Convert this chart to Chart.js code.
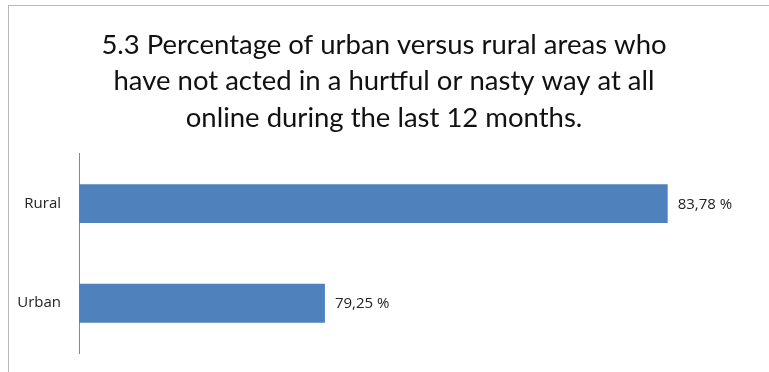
<!DOCTYPE html>
<html>
<head>
<meta charset="utf-8">
<script src="https://cdn.jsdelivr.net/npm/chart.js@4"></script>
<style>
  html, body { margin: 0; padding: 0; background: #fff; }
  #wrap { position: relative; width: 769px; height: 372px; }
  #frame { position: absolute; left: 8px; top: 5px; right: 0; bottom: 0;
           border-left: 1px solid #b8b8b8; border-top: 1px solid #b8b8b8; }
  canvas { position: absolute; left: 0; top: 0; }
</style>
</head>
<body>
<div id="wrap">
  <div id="frame"></div>
  <canvas id="chart" width="769" height="372"></canvas>
</div>
<script>
const titleLines = [
  '5.3 Percentage of urban versus rural areas who',
  'have not acted in a hurtful or nasty way at all',
  'online during the last 12 months.'
];
const areas = ['Rural', 'Urban'];
const shares = [83.78, 79.25];

const labelFont = { family: '"Open Sans", sans-serif', size: 15 };

// writes "83,78 %" to the right of each bar
const valueLabels = {
  id: 'valueLabels',
  afterDatasetsDraw(chart) {
    const ctx = chart.ctx;
    const meta = chart.getDatasetMeta(0);
    ctx.save();
    ctx.font = labelFont.size + 'px ' + labelFont.family;
    ctx.fillStyle = '#222';
    ctx.textAlign = 'left';
    ctx.textBaseline = 'middle';
    meta.data.forEach((bar, i) => {
      const txt = shares[i].toFixed(2).replace('.', ',') + ' %';
      ctx.fillText(txt, bar.x + 10, bar.y + 1);
    });
    ctx.restore();
  }
};

new Chart(document.getElementById('chart'), {
  type: 'bar',
  data: {
    labels: areas,
    datasets: [{
      data: shares,
      backgroundColor: '#4f81bd',
      barPercentage: 0.39,
      categoryPercentage: 1
    }]
  },
  options: {
    indexAxis: 'y',
    responsive: false,
    animation: false,
    layout: { padding: { left: 8, right: 9, bottom: 19, top: 12 } },
    plugins: {
      legend: { display: false },
      tooltip: { enabled: false },
      title: {
        display: true,
        text: titleLines,
        color: '#111',
        font: { family: 'Lato, sans-serif', size: 27.5, weight: 'normal', lineHeight: 1.32 },
        padding: { top: 15, bottom: 18 }
      }
    },
    scales: {
      x: { display: false, min: 76, max: 85 },
      y: {
        afterFit(scale) {
          scale.width = 71;
          // labels sit beside the bars, no extra room needed above/below
          scale.paddingTop = 0;
          scale.paddingBottom = 0;
        },
        grid: { display: false, drawTicks: false },
        border: { display: true, color: '#888' },
        ticks: {
          color: '#222',
          padding: 18,
          font: labelFont
        }
      }
    }
  },
  plugins: [valueLabels]
});
</script>
</body>
</html>
